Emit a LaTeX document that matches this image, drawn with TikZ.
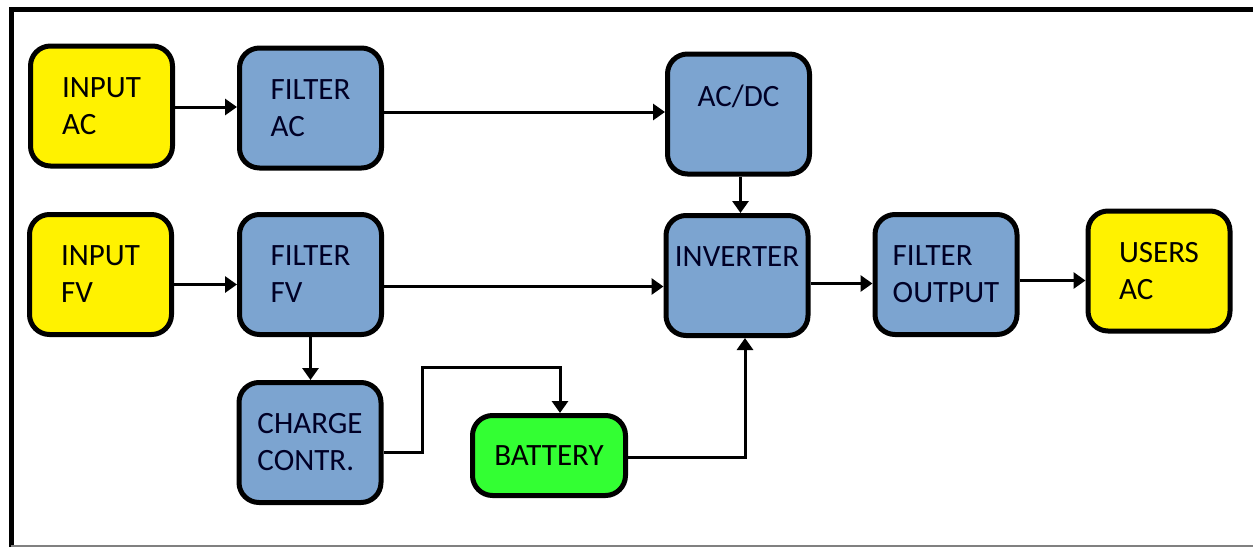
\documentclass[tikz,border=0pt]{standalone}
\usepackage{fontspec}
\setmainfont{Carlito}
\usepackage{tikz}
\usetikzlibrary{arrows.meta,positioning,calc}
\definecolor{boxblue}{RGB}{124,164,208}
\definecolor{battgreen}{RGB}{51,255,51}

\begin{document}
\begin{tikzpicture}[x=0.5pt, y=-0.5pt, >={Triangle[length=6pt,width=8pt]},
  every node/.style = {font=\fontsize{15.5}{18.5}\selectfont},
  block/.style  = {rectangle, draw, line width=2.5pt, rounded corners=10pt,
                   minimum height=60pt, minimum width=71pt,
                   align=left, fill=boxblue, text=black!85!blue},
  io/.style     = {block, fill=yellow, text=black},
  cell/.style   = {block, fill=battgreen, minimum height=40pt,
                   minimum width=76.5pt, text=black},
  arrow/.style  = {->, line width=1.5pt},
]
  \useasboundingbox (0,0) rectangle (1253,547);
  % frame
  \draw[line width=2.5pt] (11,547) -- (11,9.5) -- (1253,9.5);
  \draw[gray, line width=1pt] (11,545.5) -- (1253,545.5);

  \node[io] (inac) at (101.5,106) {INPUT\\AC};
  \node[block] (filac) at (310.5,108) {FILTER\\AC};
  \node[block] (acdc) at (738.5,114) {AC/DC\\~};
  \node[io] (infv) at (100.5,274.5) {INPUT\\FV};
  \node[block] (filfv) at (310.5,274.5) {FILTER\\FV};
  \node[block] (inv) at (737,275.5) {INVERTER\\~};
  \node[block] (filout) at (946,274.5) {FILTER\\OUTPUT};
  \node[io] (users) at (1159,271) {USERS\\AC};
  \node[block] (charge) at (310,442.5) {CHARGE\\CONTR.};
  \node[cell] (batt) at (549,455.5) {BATTERY};
  \coordinate (bend) at (422,367);

  \draw[arrow] ([yshift=-0.5pt]inac.east) -- ([yshift=-0.5pt]inac.east -| filac.west);
  \draw[arrow] ([yshift=-2pt]filac.east) -- ([yshift=-2pt]filac.east -| acdc.west);
  \draw[arrow] ([xshift=1pt]acdc.south) -- ([xshift=1pt]acdc.south |- inv.north);
  \draw[arrow] ([yshift=-5pt]infv.east) -- ([yshift=-5pt]infv.east -| filfv.west);
  \draw[arrow] ([yshift=-6pt]filfv.east) -- ([yshift=-6pt]filfv.east -| inv.west);
  \draw[arrow] ([yshift=-4pt]inv.east) -- ([yshift=-4pt]inv.east -| filout.west);
  \draw[arrow] ([yshift=-3pt]filout.east) -- ([yshift=-3pt]filout.east -| users.west);
  \draw[arrow] (filfv.south) -- (filfv.south |- charge.north);

  % charge controller feeds the battery, battery feeds the inverter
  \draw[arrow] ([yshift=-5pt]charge.east) -| (bend) -| ([xshift=5.5pt]batt.north);
  \draw[arrow] ([yshift=-1pt]batt.east) -| ([xshift=4pt]inv.south);
\end{tikzpicture}
\end{document}
